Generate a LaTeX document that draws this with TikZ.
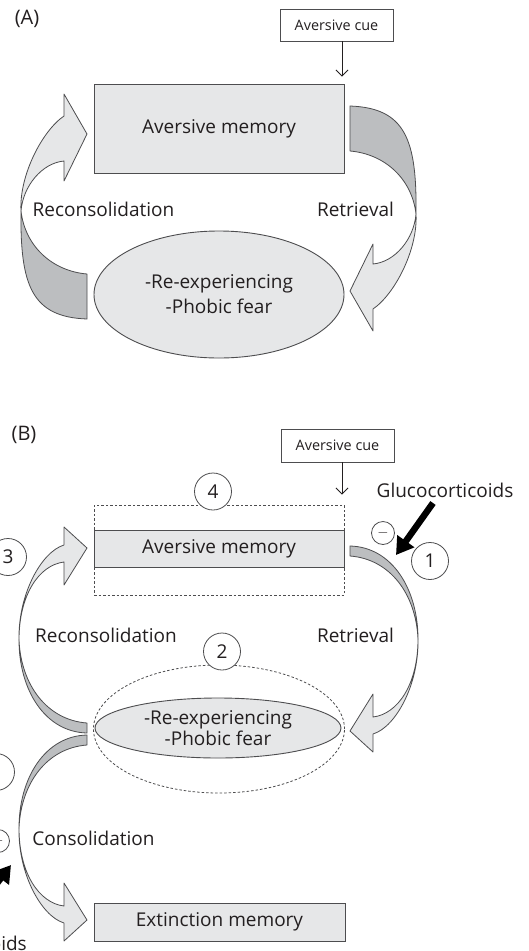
\documentclass[tikz,border=0pt]{standalone}
\usepackage{fontspec}
\setmainfont{Open Sans}
\usepackage{tikz}
\usetikzlibrary{arrows.meta,shapes.geometric}
\definecolor{ink}{HTML}{231F20}
\definecolor{edge}{HTML}{4D4D4F}
\definecolor{pale}{HTML}{E6E7E8}
\definecolor{shade}{HTML}{BCBEC0}
\tikzset{
  panel/.style={text=ink, inner sep=0pt, font=\fontsize{20}{23}\selectfont},
  lab/.style={text=ink, inner sep=0pt, font=\fontsize{19}{23}\selectfont},
  cuebox/.style={draw=edge, line width=0.9pt, minimum width=113pt, minimum height=32pt, inner sep=0pt, text=ink, font=\fontsize{14.4}{17}\selectfont},
  membox/.style={draw=edge, fill=pale, line width=0.9pt, minimum width=250pt, inner sep=0pt, text=ink, font=\fontsize{19}{23}\selectfont},
  oval/.style={ellipse, draw=edge, fill=pale, line width=0.9pt, inner sep=0pt, align=center, text=ink},
  halo/.style={draw=edge, line width=0.8pt, dash pattern=on 2.5pt off 2pt},
  num/.style={circle, draw=edge, fill=white, line width=0.8pt, minimum size=37pt, inner sep=0pt, text=ink, font=\fontsize{19}{23}\selectfont},
  minus/.style={circle, draw=edge, fill=white, line width=0.8pt, minimum size=23pt, inner sep=0pt, text=ink, font=\fontsize{14}{16}\selectfont},
  cue/.style={draw=ink, line width=0.9pt, -{Straight Barb[length=6pt,width=12pt]}},
  gluco/.style={draw=black, line width=6.5pt, -{Triangle[length=17pt,width=20pt]}},
  ribbon/.style={draw=edge, line width=0.8pt, line join=round},
  % wide twisted arrow, tail low, head up and pointing right
  loopA/.pic={
    \filldraw[ribbon, fill=shade] (0,63) .. controls (-35,60) and (-62,35) .. (-66,0)
      .. controls (-67,75) and (-55,106) .. (0,108) -- cycle;
    \filldraw[ribbon, fill=pale] (-66,0) .. controls (-68,-35) and (-45,-80) .. (-23,-95)
      -- (-23,-117) -- (0,-77) -- (-23,-30) -- (-23,-50)
      .. controls (-45,-48) and (-64,-25) .. (-66,0) -- cycle;
  },
  % thin version for panel B
  loopB/.pic={
    \filldraw[ribbon, fill=shade] (0,83) .. controls (-40,80) and (-66,45) .. (-68,0)
      .. controls (-68,50) and (-42,92) .. (0,93) -- cycle;
    \filldraw[ribbon, fill=pale] (-68,0) .. controls (-69,-45) and (-46,-88) .. (-23,-95)
      -- (-23,-113) -- (0,-92) -- (-23,-55) -- (-23,-78)
      .. controls (-48,-75) and (-68,-45) .. (-68,0) -- cycle;
  },
}

\begin{document}
\begin{tikzpicture}[x=1pt,y=-1pt]
  \path[use as bounding box] (0,0) rectangle (528,951);
  \clip (0,0) rectangle (528,951);
  \fill[white] (0,0) rectangle (528,951);

  % ---- panel A ----
  \node[panel] (labA) at (27,19) {(A)};
  \node[cuebox] (cueA) at (336.5,25) {Aversive cue};
  \node[membox, minimum height=89pt] (memA) at (219,128.5) {Aversive memory};
  \node[oval, minimum width=250pt, minimum height=127pt, font=\fontsize{19}{25}\selectfont] (fearA) at (219,294.5) {-Re-experiencing\\-Phobic fear};
  \draw[cue, shorten >=7pt] ([xshift=5.5pt]cueA.south) -- ([xshift=5.5pt]cueA.south |- memA.north);
  \pic at (87,211) {loopA};
  \pic[rotate=180] at (350,214) {loopA};
  \node[lab] (reconA) at (103.5,209) {Reconsolidation};
  \node[lab] (retrA) at (355.5,209) {Retrieval};

  % ---- panel B ----
  \node[panel] (labB) at (24,435) {(B)};
  \node[cuebox, minimum height=33pt] (cueB) at (337.5,445.5) {Aversive cue};
  \node[halo, minimum width=250pt, minimum height=90pt] (memzone) at (219,550) {};
  \node[membox, minimum height=37pt] (memB) at (219,548.5) {Aversive memory};
  \draw[cue, shorten >=10pt] ([xshift=4.5pt]cueB.south) -- ([xshift=4.5pt]cueB.south |- memzone.north);
  \node[num] (four) at (213,491.5) {4};

  \node[halo, ellipse, minimum width=251pt, minimum height=128pt] (fearzone) at (219,729) {};
  \node[oval, minimum width=246pt, minimum height=60pt, font=\fontsize{19}{21}\selectfont] (fearB) at (218,728) {-Re-experiencing\\-Phobic fear};
  \node[num] (two) at (222,651.5) {2};

  \node[membox, minimum width=251pt, minimum height=38pt] (extinct) at (219.5,922) {Extinction memory};

  \pic at (87,640) {loopB};
  \pic[rotate=180] at (350,639) {loopB};
  \pic[yscale=-1] at (87,828) {loopB};

  \node[lab] (reconB) at (106,635) {Reconsolidation};
  \node[lab] (retrB) at (355.5,635) {Retrieval};
  \node[lab] (consol) at (93.5,838) {Consolidation};

  % glucocorticoids acting on retrieval
  \node[lab] (gluA) at (445,490) {Glucocorticoids};
  \coordinate (gA1) at (433,503);
  \coordinate (gA2) at (396,555);
  \draw[gluco] (gA1) -- (gA2);
  \node[minus] (negA) at (383,533) {$-$};
  \node[num] (one) at (430,561) {1};
  \node[num] (three) at (8,557) {3};

  % glucocorticoids acting on consolidation
  \node[num] (five) at (-4,772) {};
  \node[minus] (negB) at (-2,841) {$-$};
  \coordinate (gB1) at (-22,908);
  \coordinate (gB2) at (11,865);
  \draw[gluco] (gB1) -- (gB2);
  \node[lab, anchor=base east] (gluB) at (27,950) {Glucocorticoids};
\end{tikzpicture}
\end{document}
